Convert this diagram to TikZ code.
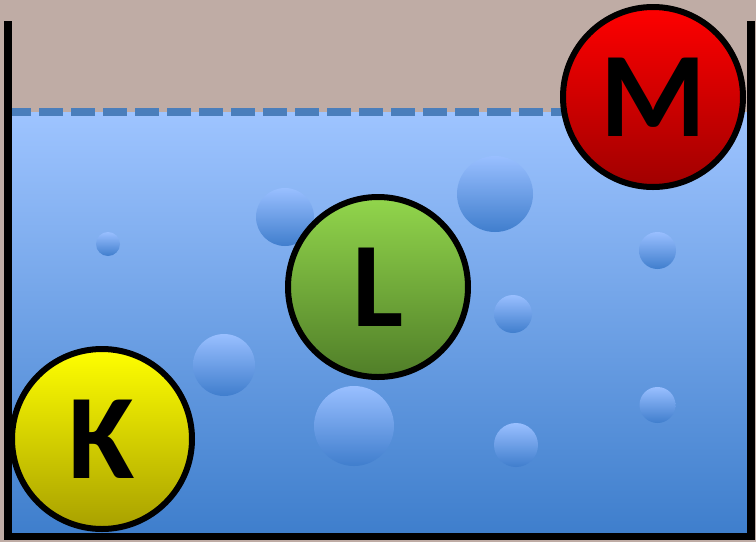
\documentclass[tikz,border=0pt]{standalone}
\usepackage{fontspec}
\setmainfont{Carlito}
\definecolor{bgbrown}{RGB}{191,172,165}
\definecolor{watertop}{RGB}{158,196,255}
\definecolor{waterbot}{RGB}{62,126,204}
\definecolor{dashblue}{RGB}{74,126,187}
\definecolor{bubtop}{RGB}{153,191,255}
\definecolor{bubbot}{RGB}{64,126,205}
\tikzset{
  ball/.style={circle, draw=black, line width=6pt, inner sep=0pt, minimum size=180pt,
    font=\fontsize{121}{121}\selectfont\bfseries},
  bubble/.style={circle, inner sep=0pt, top color=bubtop, bottom color=bubbot, draw=none},
  wall/.style={draw=black, line width=7.5pt, line join=miter},
}
\begin{document}
\begin{tikzpicture}[x=1pt,y=-1pt]
\useasboundingbox (0,0) rectangle (756,542);
\fill[bgbrown] (0,0) rectangle (756,542);
% water
\shade[top color=watertop, bottom color=waterbot] (8,112) rectangle (751,536);
\draw[dashblue, line width=8pt, dash pattern=on 24pt off 8pt] (7,112) -- (600,112);
% bubbles
\node[bubble, minimum size=24pt] (b1) at (108,244) {};
\node[bubble, minimum size=58pt] (b2) at (285,217) {};
\node[bubble, minimum size=76pt] (b3) at (495,194) {};
\node[bubble, minimum size=37pt] (b4) at (657.5,250.5) {};
\node[bubble, minimum size=38pt] (b5) at (513,314) {};
\node[bubble, minimum size=62pt] (b6) at (224,365) {};
\node[bubble, minimum size=80pt] (b7) at (354,426) {};
\node[bubble, minimum size=44pt] (b8) at (516,445) {};
\node[bubble, minimum size=36pt] (b9) at (657.5,405) {};
% container
\draw[wall] (8,21) -- (8,536.5) -- (751,536.5) -- (751,21);
% balls
\node[ball, top color=red!100, bottom color={rgb,255:red,160;green,0;blue,0}] (M) at (653,97) {M};
\node[ball, top color={rgb,255:red,146;green,214;blue,76}, bottom color={rgb,255:red,80;green,126;blue,40}] (L) at (378,287) {L};
\node[ball, top color={rgb,255:red,255;green,255;blue,0}, bottom color={rgb,255:red,168;green,160;blue,0}] (K) at (102,439) {K};
\end{tikzpicture}
\end{document}
